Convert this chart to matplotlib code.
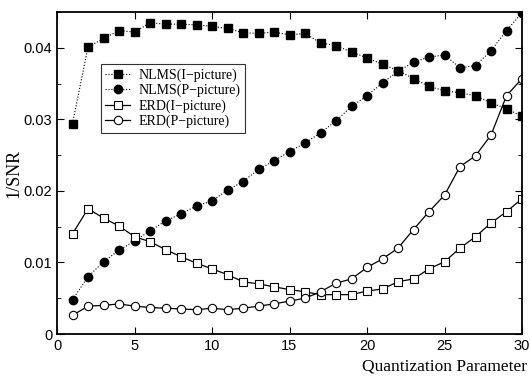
import numpy as np
import matplotlib
matplotlib.use("Agg")
import matplotlib.pyplot as plt
from matplotlib.ticker import MultipleLocator, FuncFormatter

# quantization parameter
qp = list(range(1, 31))

nlms_i = [0.0294, 0.0401, 0.0413, 0.0424, 0.0422, 0.0435, 0.0433, 0.0433, 0.0432, 0.0430,
          0.0427, 0.0421, 0.0420, 0.0422, 0.0418, 0.0420, 0.0407, 0.0403, 0.0394, 0.0386,
          0.0377, 0.0368, 0.0357, 0.0346, 0.0340, 0.0337, 0.0333, 0.0323, 0.0315, 0.0304]

nlms_p = [0.0048, 0.0080, 0.0101, 0.0117, 0.0130, 0.0144, 0.0158, 0.0168, 0.0179, 0.0186,
          0.0201, 0.0213, 0.0230, 0.0242, 0.0255, 0.0267, 0.0281, 0.0298, 0.0318, 0.0333,
          0.0351, 0.0367, 0.0380, 0.0387, 0.0390, 0.0372, 0.0375, 0.0396, 0.0424, 0.0449]

erd_i = [0.0140, 0.0175, 0.0162, 0.0151, 0.0136, 0.0129, 0.0118, 0.0108, 0.0099, 0.0091,
         0.0083, 0.0073, 0.0070, 0.0066, 0.0062, 0.0059, 0.0055, 0.0055, 0.0055, 0.0060,
         0.0063, 0.0073, 0.0077, 0.0091, 0.0101, 0.0120, 0.0136, 0.0155, 0.0171, 0.0189]

erd_p = [0.0026, 0.0039, 0.0040, 0.0042, 0.0039, 0.0037, 0.0036, 0.0035, 0.0034, 0.0036,
         0.0034, 0.0036, 0.0039, 0.0042, 0.0046, 0.0050, 0.0059, 0.0071, 0.0077, 0.0093,
         0.0105, 0.0120, 0.0146, 0.0171, 0.0194, 0.0234, 0.0249, 0.0278, 0.0333, 0.0357]

plt.rcParams['font.family'] = ['Liberation Sans', 'DejaVu Sans']
serif = ['Liberation Serif', 'DejaVu Serif']

fig = plt.figure(figsize=(5.3, 3.77), dpi=100)
ax = fig.add_axes([57 / 530, 43 / 377, 465 / 530, 322 / 377])

ax.plot(qp, nlms_i, ls=':', lw=0.8, color='black', marker='s', ms=6,
        mfc='black', mec='black', label='NLMS(I\u2212picture)')
ax.plot(qp, nlms_p, ls=':', lw=0.8, color='black', marker='o', ms=6,
        mfc='black', mec='black', label='NLMS(P\u2212picture)')
ax.plot(qp, erd_i, ls='-', lw=0.9, color='black', marker='s', ms=6,
        mfc='white', mec='black', mew=0.8, label='ERD(I\u2212picture)')
ax.plot(qp, erd_p, ls='-', lw=0.9, color='black', marker='o', ms=6,
        mfc='white', mec='black', mew=0.8, label='ERD(P\u2212picture)')

ax.set_xlim(0, 30)
ax.set_ylim(0, 0.045)
ax.xaxis.set_major_locator(MultipleLocator(5))
ax.yaxis.set_major_locator(MultipleLocator(0.01))
ax.yaxis.set_minor_locator(MultipleLocator(0.005))
ax.yaxis.set_major_formatter(FuncFormatter(lambda v, p: '0' if abs(v) < 1e-9 else f'{v:.2f}'))
ax.tick_params(which='both', direction='in', top=True, right=True, labelsize=10.5)
ax.tick_params(which='major', length=5)
ax.tick_params(which='minor', length=3)
for s in ax.spines.values():
    s.set_linewidth(1.3)

ax.set_ylabel('1/SNR', family=serif, fontsize=13, labelpad=1)
ax.set_xlabel('Quantization Parameter', family=serif, fontsize=12.5, labelpad=1)
ax.xaxis.set_label_coords(1.01, -0.075, transform=ax.transAxes)
ax.xaxis.label.set_ha('right')

leg = ax.legend(loc='upper left', bbox_to_anchor=(0.08, 0.86), prop={'family': serif, 'size': 10},
                frameon=True, fancybox=False, edgecolor='black', handlelength=1.8,
                borderpad=0.3, labelspacing=0.15, handletextpad=0.6)
leg.get_frame().set_linewidth(0.8)

fig.savefig('out.png', dpi=100)
